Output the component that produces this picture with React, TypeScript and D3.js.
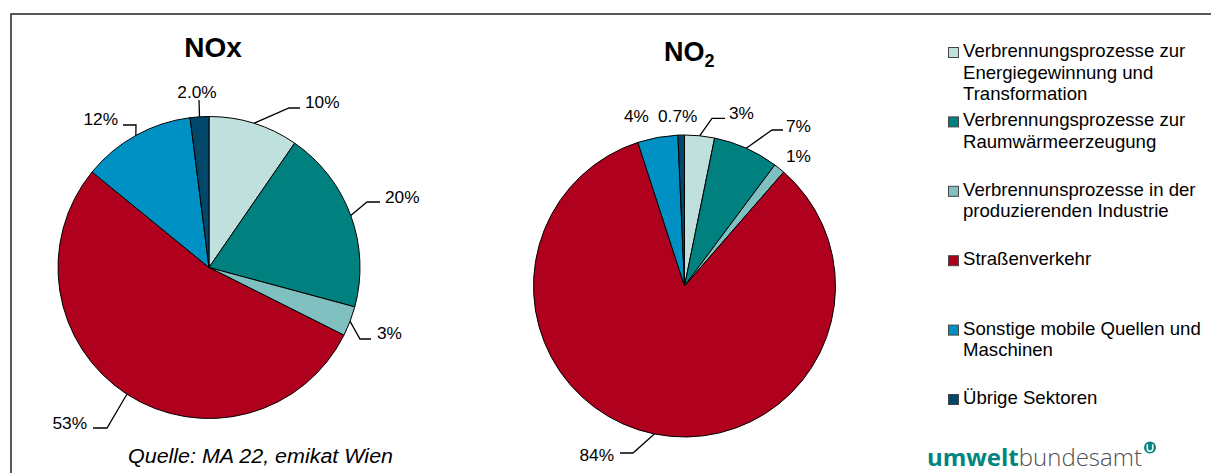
import React from "react";
import * as d3 from "d3";

// ---- data ----
const categories: string[][] = [
  ["Verbrennungsprozesse zur", "Energiegewinnung und", "Transformation"],
  ["Verbrennungsprozesse zur", "Raumwärmeerzeugung"],
  ["Verbrennunsprozesse in der", "produzierenden Industrie"],
  ["Straßenverkehr"],
  ["Sonstige mobile Quellen und", "Maschinen"],
  ["Übrige Sektoren"],
];
const noxValues = [9.6, 19.6, 3.2, 53.5, 12.1, 2.0];
const noxLabels = ["10%", "20%", "3%", "53%", "12%", "2.0%"];
const no2Values = [3.2, 7.0, 1.2, 83.6, 4.3, 0.7];
const no2Labels = ["3%", "7%", "1%", "84%", "4%", "0.7%"];
const sliceColors = ["#C0E0DE", "#00807E", "#80C0C0", "#AF001E", "#0091C4", "#00476A"];

// ---- label layout (offsets from pie centre; hand-placed in the reference) ----
type LabelPos = {
  tx: number; ty: number; anchor: "start" | "end" | "middle";
  elbow?: [number, number]; end?: [number, number];
};
const noxLabelPos: LabelPos[] = [
  { tx: 96, ty: -159.5, anchor: "start", elbow: [80, -159.5], end: [91, -159.5] },
  { tx: 176, ty: -64.5, anchor: "start", elbow: [158, -65.5], end: [171, -65.5] },
  { tx: 168, ty: 71.5, anchor: "start", elbow: [151, 71.5], end: [162, 71.5] },
  { tx: -122, ty: 161.5, anchor: "end", elbow: [-102, 160.5], end: [-116, 160.5] },
  { tx: -91, ty: -142.5, anchor: "end", elbow: [-73, -142.5], end: [-86, -142.5] },
  { tx: -12, ty: -169.5, anchor: "middle", end: [-10, -167.5] },
];
const no2LabelPos: LabelPos[] = [
  { tx: 44.5, ty: -167, anchor: "start", elbow: [27.5, -167.7], end: [40.5, -167.7] },
  { tx: 101.5, ty: -154.5, anchor: "start", elbow: [87.5, -156], end: [98.5, -156] },
  { tx: 101.5, ty: -124, anchor: "start" },
  { tx: -70.5, ty: 175, anchor: "end", elbow: [-51.5, 167], end: [-64.5, 167] },
  { tx: -60.5, ty: -164, anchor: "start" },
  { tx: -26.5, ty: -164, anchor: "start" },
];

const FONT = "'Liberation Sans', Arial, Helvetica, sans-serif";
const R = 151;

function Pie({ cx, cy, values, labels, layout }: {
  cx: number; cy: number; values: number[]; labels: string[]; layout: LabelPos[];
}) {
  const pie = d3.pie<number>().sort(null).value((d) => d);
  const arcs = pie(values);
  const arc = d3.arc<d3.PieArcDatum<number>>().innerRadius(0).outerRadius(R);
  return (
    <g transform={`translate(${cx},${cy})`}>
      {arcs.map((a, i) => (
        <path key={i} d={arc(a) || ""} fill={sliceColors[i]} stroke="#000" strokeWidth={1} strokeLinejoin="round" />
      ))}
      {arcs.map((a, i) => {
        const L = layout[i];
        const mid = (a.startAngle + a.endAngle) / 2;
        const [sx, sy] = d3.pointRadial(mid, R);
        let leader = null;
        if (L.end) {
          const pts: [number, number][] = [[sx, sy]];
          if (L.elbow) pts.push(L.elbow);
          pts.push(L.end);
          leader = <path d={d3.line()(pts) || ""} fill="none" stroke="#000" strokeWidth={1.3} />;
        }
        return (
          <g key={"l" + i}>
            {leader}
            <text x={L.tx} y={L.ty} textAnchor={L.anchor} fontSize={17.3} fontFamily={FONT} fill="#000">
              {labels[i]}
            </text>
          </g>
        );
      })}
    </g>
  );
}

export default function App() {
  const legendX = 948;
  const legendY0 = 57;
  const legendStep = 69.4;
  const lineH = 21.5;
  return (
    <svg width={1211} height={473} style={{ position: "absolute", left: 0, top: 0, background: "#fff" }}>
      <rect x={0} y={0} width={1211} height={473} fill="#fff" />
      <rect x={11} y={14} width={1260} height={520} fill="none" stroke="#222" strokeWidth={1.5} />

      <text x={213} y={57} textAnchor="middle" fontSize={28} fontWeight="bold" fontFamily={FONT}>NOx</text>
      <text x={664} y={61} fontSize={27} fontWeight="bold" fontFamily={FONT}>
        NO<tspan fontSize={18} dy={6}>2</tspan>
      </text>

      <Pie cx={209} cy={267.5} values={noxValues} labels={noxLabels} layout={noxLabelPos} />
      <Pie cx={684.5} cy={286} values={no2Values} labels={no2Labels} layout={no2LabelPos} />

      {categories.map((lines, i) => {
        const y = legendY0 + i * legendStep;
        return (
          <g key={i}>
            <rect x={legendX + 0.5} y={y - 9.5} width={10} height={10} fill={sliceColors[i]} stroke="#444" strokeWidth={1} />
            <text fontSize={18.6} fontFamily={FONT} fill="#000">
              {lines.map((t, j) => (
                <tspan key={j} x={963} y={y + j * lineH}>{t}</tspan>
              ))}
            </text>
          </g>
        );
      })}

      <text x={260.5} y={463} textAnchor="middle" fontSize={19.5} fontStyle="italic" fontFamily={FONT}
        textLength={265} lengthAdjust="spacingAndGlyphs">
        Quelle: MA 22, emikat Wien
      </text>

      <g>
        <text x={927} y={466} fontSize={23.5} fontFamily="'Open Sans', Lato, sans-serif"
          textLength={215} lengthAdjust="spacingAndGlyphs">
          <tspan fontWeight="bold" fill="#00857E">umwelt</tspan>
          <tspan fontWeight={300} fill="#505050">bundesamt</tspan>
        </text>
        <circle cx={1150} cy={447.5} r={6} fill="#00857E" />
        <path d="M1147.3,444.3 V448.5 a2.7,2.7 0 0 0 5.4,0 V444.3" fill="none" stroke="#fff" strokeWidth={1.6} />
      </g>
    </svg>
  );
}
